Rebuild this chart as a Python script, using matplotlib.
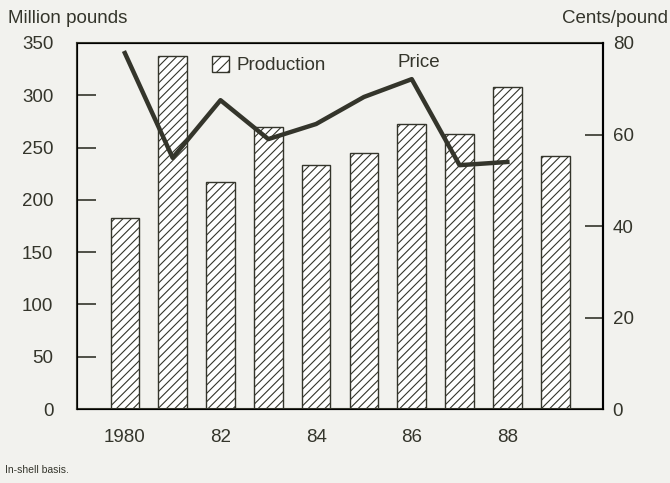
import matplotlib.pyplot as plt
from matplotlib.patches import Patch

plt.rcParams['font.family'] = ['Liberation Sans', 'DejaVu Sans']
plt.rcParams['hatch.linewidth'] = 0.8

years = [1980, 1981, 1982, 1983, 1984, 1985, 1986, 1987, 1988, 1989]
production = [183, 338, 217, 270, 233, 245, 273, 263, 308, 242]
price_years = [1980, 1981, 1982, 1983, 1984, 1985, 1986, 1987, 1988]
price = [77.8, 54.9, 67.5, 59.0, 62.3, 68.2, 72.1, 53.3, 54.0]
xtick_pos = [1980, 1982, 1984, 1986, 1988]
xtick_labels = ["1980", "82", "84", "86", "88"]

bg = "#f2f2ee"
ink = "#34352b"

fig = plt.figure(figsize=(6.7, 4.83), dpi=100, facecolor=bg)
ax = fig.add_axes([0.115, 0.153, 0.785, 0.758], facecolor=bg)

ax.bar(years, production, width=0.6, color="white", edgecolor=ink,
       linewidth=1.0, hatch="////")
ax.set_xlim(1979, 1990)
ax.set_ylim(0, 350)
ax.set_yticks(range(0, 351, 50))
ax.set_xticks(xtick_pos)
ax.set_xticklabels(xtick_labels)
ax.tick_params(axis="y", direction="in", length=14, width=1.2, pad=17,
               labelsize=13.5, colors=ink)
ax.tick_params(axis="x", length=0, pad=14, labelsize=13.5, colors=ink)
for s in ax.spines.values():
    s.set_color(ink)
    s.set_linewidth(1.5)

ax2 = ax.twinx()
ax2.plot(price_years, price, color=ink, linewidth=3.2)
ax2.set_ylim(0, 80)
ax2.set_yticks(range(0, 81, 20))
ax2.tick_params(axis="y", direction="in", length=13, width=1.2, pad=7,
                labelsize=13.5, colors=ink)
ax2.spines["right"].set_linewidth(1.5)

# legend for the bars, the line is labelled by plain text
ax.legend(handles=[Patch(facecolor="white", edgecolor=ink, hatch="///",
                         label="Production")],
          loc="upper left", bbox_to_anchor=(0.225, 1.01), frameon=False,
          fontsize=13.5, handlelength=0.9, handleheight=0.9, handletextpad=0.4,
          labelcolor=ink)
ax.text(1986.15, 331, "Price", fontsize=13.5, color=ink, ha="center", va="center")

fig.text(0.012, 0.962, "Million pounds", fontsize=13.5, color=ink, va="center")
fig.text(0.997, 0.962, "Cents/pound", fontsize=13.5, color=ink, va="center",
         ha="right")
fig.text(0.008, 0.027, "In-shell basis.", fontsize=7.5, color=ink, va="center")

fig.savefig("out.png", dpi=100, facecolor=bg)
